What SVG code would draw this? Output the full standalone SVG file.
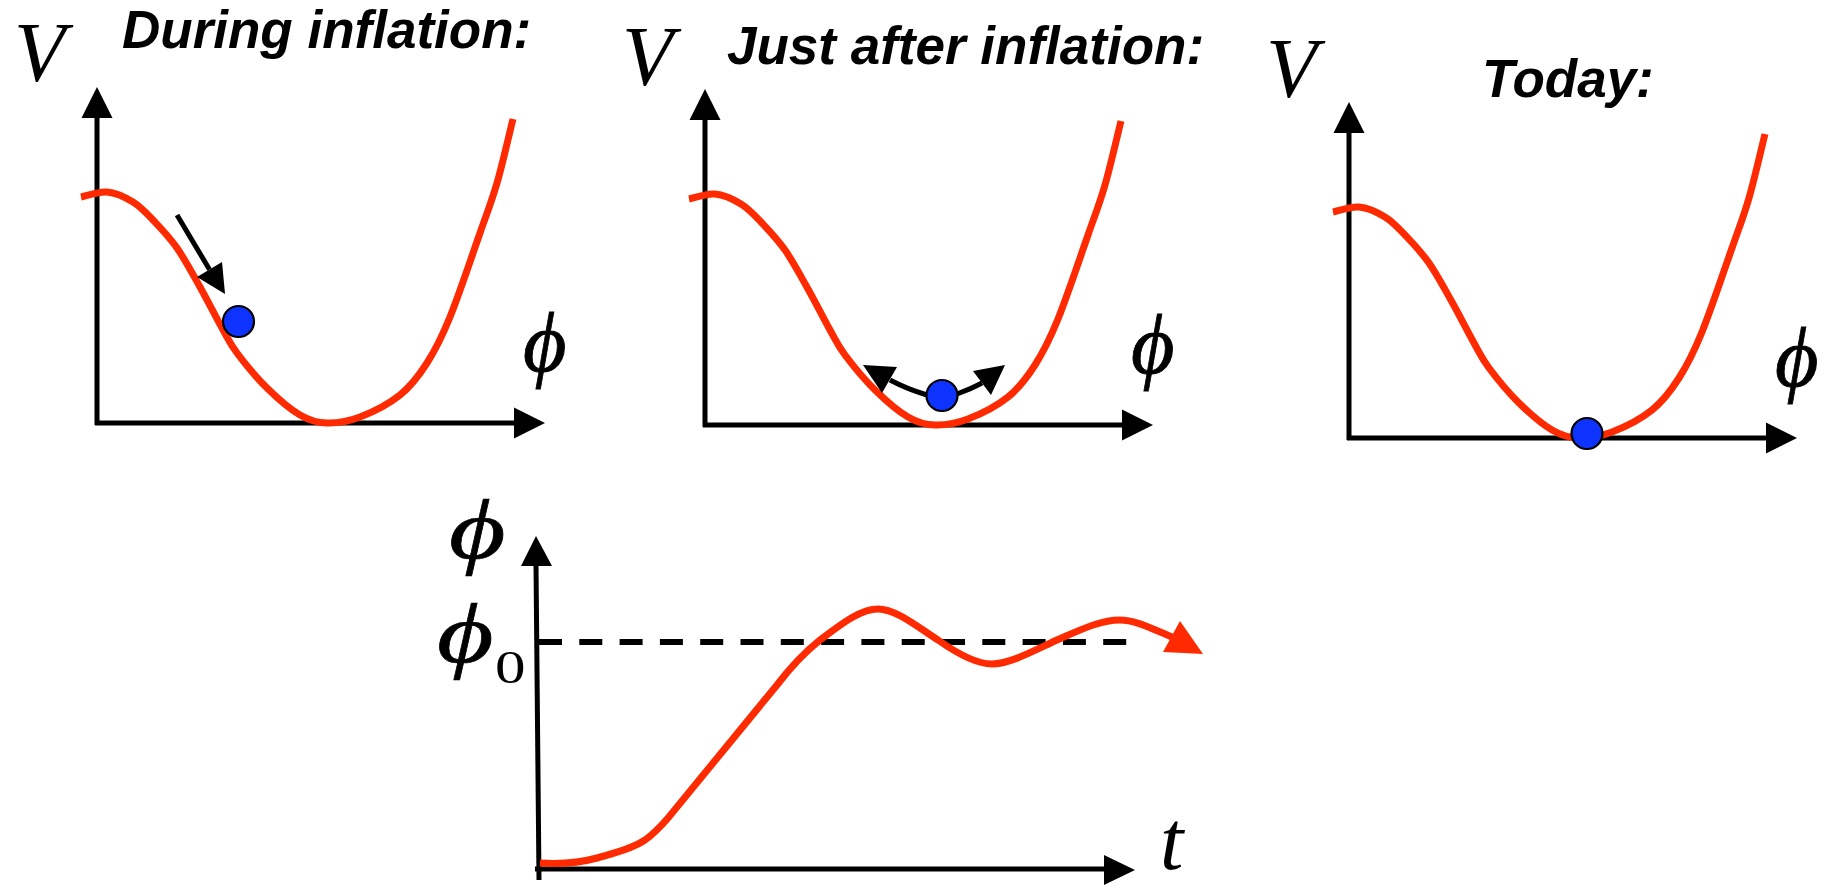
<svg xmlns="http://www.w3.org/2000/svg" xmlns:xlink="http://www.w3.org/1999/xlink" width="1825" height="888" viewBox="0 0 1825 888">
<style>
.ax{fill:none;stroke:#000;stroke-width:5}
.ah{fill:#000}
.pot{fill:none;stroke:#ff2a00;stroke-width:7}
.ball{fill:#0f33ff;stroke:#000;stroke-width:2.2}
.title{font-family:"Liberation Sans",Arial,sans-serif;font-weight:bold;font-style:italic;font-size:53px;fill:#000}
.math{font-family:"Liberation Serif","Times New Roman",serif;font-style:italic;font-size:84px;fill:#000}
.phi{stroke:#000;stroke-width:0.8}
.wphi{stroke:#000;stroke-width:0.6}
.sub{font-family:"Liberation Serif","Times New Roman",serif;font-size:47px;fill:#000}
</style>
<defs>
<path id="pot" d="M-16,-226 C-11.7,-226.8 1.3,-231.8 10,-231 C18.7,-230.2 28.3,-225.7 36,-221 C43.7,-216.3 48.7,-210.7 56,-203 C63.3,-195.3 72.2,-186.2 80,-175 C87.8,-163.8 95.5,-149.3 103,-136 C110.5,-122.7 118.8,-106 125,-95 C131.2,-84 132.5,-80 140,-70 C147.5,-60 159.5,-45.3 170,-35 C180.5,-24.7 193,-13.8 203,-8 C213,-2.2 220,0 230,0 C240,0.3 250.8,-1.3 263,-6 C275.2,-10.7 291.8,-19 303,-28 C314.2,-37 321.7,-47 330,-60 C338.3,-73 344.2,-84.3 353,-106 C361.8,-127.7 375.2,-167.7 383,-190 C390.8,-212.3 394.5,-221 400,-240 C405.5,-259 413.3,-293.3 416,-304"/>
<g id="axes">
<path class="ax" d="M0,2 V-306 M-2,0 H418"/>
<polygon class="ah" points="0,-336 -15.5,-305 15.5,-305"/>
<polygon class="ah" points="448,0 417,-15.5 417,15.5"/>
</g>
</defs>

<g id="panel-during" transform="translate(97,423)">
<use href="#axes" xlink:href="#axes"/>
<use href="#pot" xlink:href="#pot" class="pot"/>
<text class="math" x="-83" y="-342">V</text>
<text class="math phi" x="426" y="-52">ϕ</text>
<path class="ax" d="M80,-208 L112.5,-153.5"/>
<polygon class="ah" points="100,-146 125,-161 128,-129"/>
<circle class="ball" cx="141.5" cy="-101.5" r="15.5"/>
</g>
<text id="title-during" class="title" x="122" y="48">During inflation:</text>

<g id="panel-after" transform="translate(705,425)">
<use href="#axes" xlink:href="#axes"/>
<use href="#pot" xlink:href="#pot" class="pot"/>
<text class="math" x="-83" y="-340">V</text>
<text class="math phi" x="426" y="-52">ϕ</text>
<path class="ax" d="M222,-30 Q202,-36 185,-45"/>
<polygon class="ah" points="158,-60 192,-58 177,-32"/>
<path class="ax" d="M252,-31 Q266,-36 277,-42"/>
<polygon class="ah" points="300,-60 268,-54 286,-30"/>
<circle class="ball" cx="237" cy="-29.5" r="15.5"/>
</g>
<text id="title-after" class="title" x="727" y="64">Just after inflation:</text>

<g id="panel-today" transform="translate(1349,438)">
<use href="#axes" xlink:href="#axes"/>
<use href="#pot" xlink:href="#pot" class="pot"/>
<text class="math" x="-83" y="-341">V</text>
<text class="math phi" x="426" y="-52">ϕ</text>
<circle class="ball" cx="238" cy="-4.5" r="15.5"/>
</g>
<text id="title-today" class="title" x="1482" y="97">Today:</text>

<g id="evolution">
<path class="ax" d="M539,880 L536,565"/>
<polygon class="ah" points="536,536 521,566 552,566"/>
<path class="ax" d="M535,869 H1106"/>
<polygon class="ah" points="1135,870 1104,855 1104,885"/>
<path d="M539,642 H1127" fill="none" stroke="#000" stroke-width="6" stroke-dasharray="23 17.3"/>
<path class="pot" d="M540,863 C555,864 575,864 597,858 C615,853 633,848 645,840 C655,833 662,825 668,818 L777,685 C790,668 805,652 820,640 C840,625 860,609 878,609 C895,609 915,625 938,640 C955,652 975,664 992,664 C1010,664 1035,650 1057,640 C1080,630 1100,620 1120,620 C1135,620 1150,628 1172,637"/>
<polygon fill="#ff2a00" points="1163,652 1180,621 1203,654"/>
<text class="math wphi" transform="translate(449,558) scale(1.3,1)">ϕ</text>
<text class="math wphi" transform="translate(437,662) scale(1.3,1)">ϕ</text>
<text class="sub" transform="translate(495,683) scale(1.3,1)">0</text>
<text class="math" x="1160" y="869">t</text>
</g>
</svg>
